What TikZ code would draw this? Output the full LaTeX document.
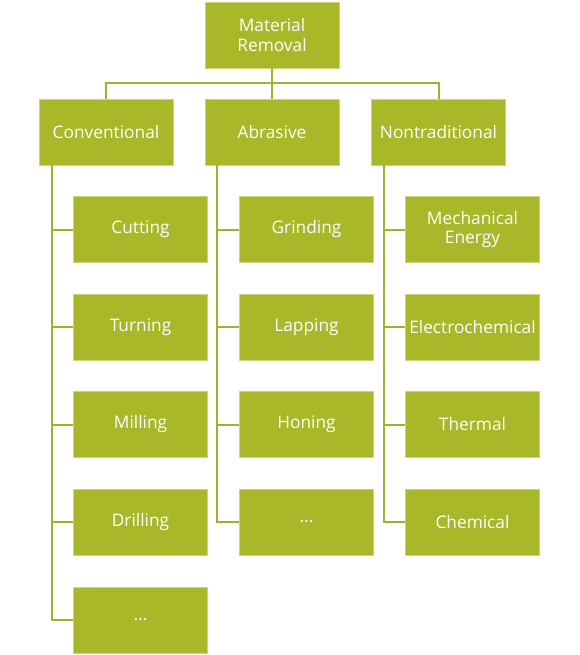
\documentclass[tikz,border=0pt]{standalone}
\usepackage{fontspec}
\setmainfont{Open Sans}
\definecolor{boxfill}{HTML}{A8B828}
\definecolor{boxedge}{HTML}{CBD67A}
\definecolor{linkcol}{HTML}{9FB22E}
\begin{document}
\begin{tikzpicture}[x=1pt,y=-1pt,
  nbox/.style={draw=boxedge,line width=0.7pt,fill=boxfill,minimum width=134pt,minimum height=66pt,
    inner sep=0pt,text=white,align=center,font=\fontsize{17.3}{19.5}\selectfont},
  link/.style={draw=linkcol,line width=2pt}]
\useasboundingbox (0,0) rectangle (580,655);
\node[nbox] (root) at (272,35) {Material\\Removal};
\node[nbox] (conv) at (106,132) {Conventional};
\node[nbox] (abr) at (272,132) {Abrasive};
\node[nbox] (nont) at (438.5,132) {Nontraditional};
% children
\node[nbox] (c1) at (140.5,229.5) {Cutting};
\node[nbox] (c2) at (140.5,327) {Turning};
\node[nbox] (c3) at (140.5,424.5) {Milling};
\node[nbox] (c4) at (140.5,522) {Drilling};
\node[nbox] (c5) at (140.5,620) {...};
\node[nbox] (a1) at (306.5,229.5) {Grinding};
\node[nbox] (a2) at (306.5,327) {Lapping};
\node[nbox] (a3) at (306.5,424.5) {Honing};
\node[nbox] (a4) at (306.5,522) {...};
\node[nbox] (n1) at (472.5,229.5) {Mechanical\\Energy};
\node[nbox] (n2) at (472.5,327) {Electrochemical};
\node[nbox] (n3) at (472.5,424.5) {Thermal};
\node[nbox] (n4) at (472.5,522) {Chemical};
% root links
\coordinate (hb) at (272,83);
\draw[link] (root.south) -- (hb);
\draw[link] (conv.north) -- (conv.north |- hb) -- (nont.north |- hb) -- (nont.north);
\draw[link] (hb) -- (abr.north);
% child links
\foreach \p/\x/\last/\list in {conv/52/c5/{c1,c2,c3,c4},abr/217/a4/{a1,a2,a3},nont/383.5/n4/{n1,n2,n3}}{
  \draw[link] (\x,165) -- (\x,0 |- \last.west) -- (\last.west);
  \foreach \c in \list { \draw[link] (\x,0 |- \c.west) -- (\c.west); }
}
\end{tikzpicture}
\end{document}
